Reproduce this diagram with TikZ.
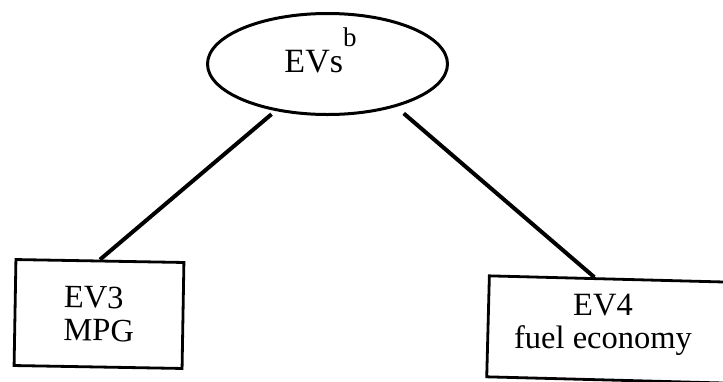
\documentclass[tikz,border=0pt]{standalone}
\usepackage{fontspec}
\setmainfont{Liberation Serif}
\usetikzlibrary{shapes.geometric}

\begin{document}
\begin{tikzpicture}[x=1pt,y=-1pt,every node/.style={font=\fontsize{32.5}{33}\selectfont},
    box/.style={draw,line width=2.8pt,inner sep=0pt},
    link/.style={line width=4pt}]
    \useasboundingbox (0,0) rectangle (723,381);
    \clip (0,0) rectangle (723,381);

    \node[draw,ellipse,line width=3pt,minimum width=240pt,minimum height=101pt,
          font=\fontsize{34}{34}\selectfont,text height=16pt,text depth=0pt] (evs) at (327.5,64)
          {EVs\raisebox{26pt}{\fontsize{27}{27}\selectfont b}\kern14pt};

    \node[box,minimum width=168pt,minimum height=106pt,rotate=-1,align=left] (ev3) at (99,314) {EV3\\MPG};
    \node[box,minimum width=280pt,minimum height=101pt,rotate=-1.5] (ev4) at (628,330) {};
    \node[align=center] (ev4txt) at (603,325) {EV4\\fuel economy};

    \draw[link,shorten <=5pt] (evs.222) -- (ev3.north);
    \draw[link,shorten <=10pt] (evs.328.3) -- (ev4.124);
\end{tikzpicture}
\end{document}
